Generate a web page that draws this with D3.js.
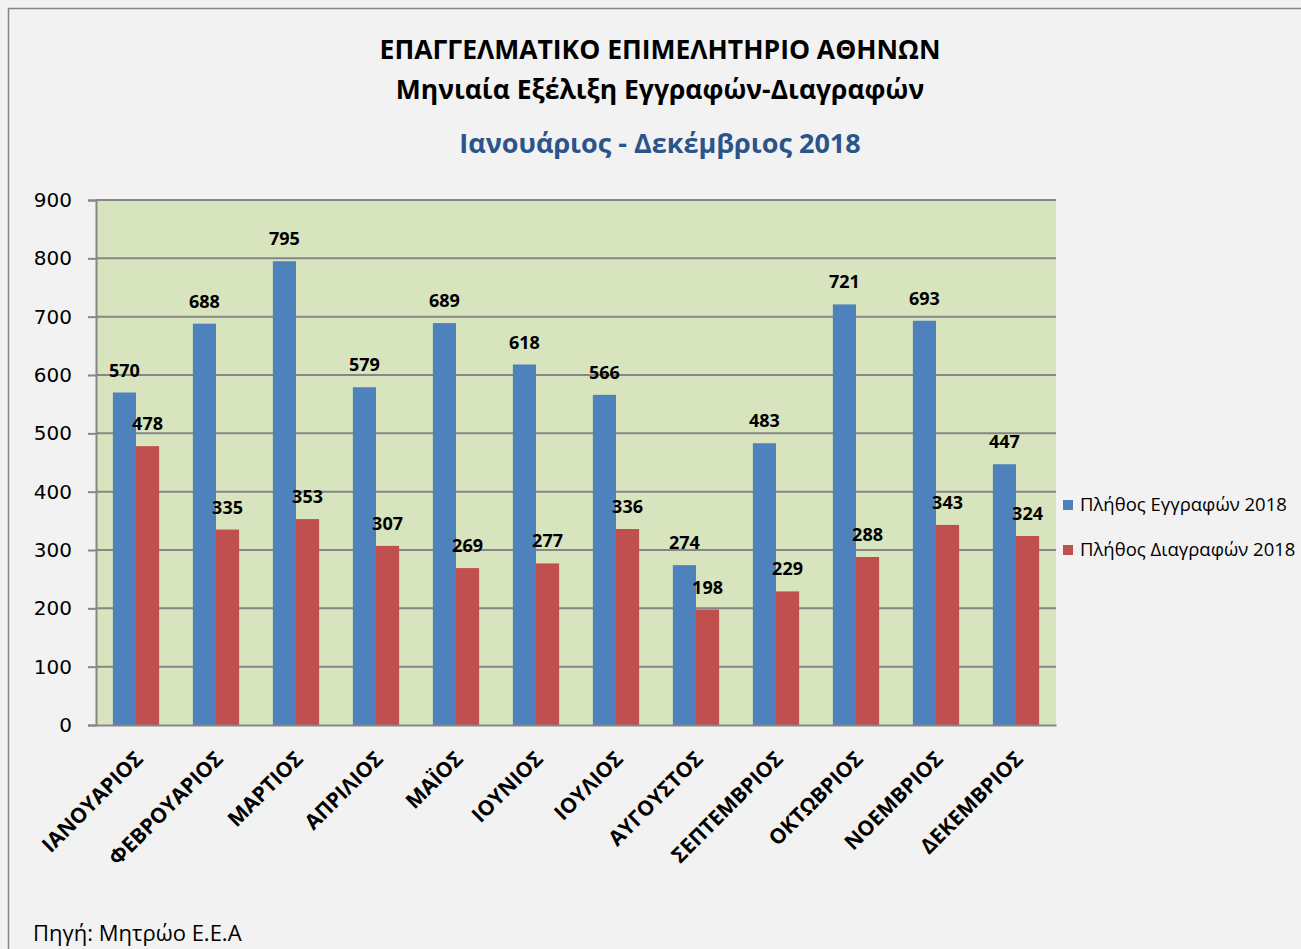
<!DOCTYPE html>
<html>
<head>
<meta charset="utf-8">
<script src="https://cdn.jsdelivr.net/npm/d3@7"></script>
<style>
  body { margin: 0; background: #fff; }
  svg { display: block; }
</style>
</head>
<body>
<div id="chart"></div>
<script>
const months = ["ΙΑΝΟΥΑΡΙΟΣ", "ΦΕΒΡΟΥΑΡΙΟΣ", "ΜΑΡΤΙΟΣ", "ΑΠΡΙΛΙΟΣ", "ΜΑΪΟΣ", "ΙΟΥΝΙΟΣ",
  "ΙΟΥΛΙΟΣ", "ΑΥΓΟΥΣΤΟΣ", "ΣΕΠΤΕΜΒΡΙΟΣ", "ΟΚΤΩΒΡΙΟΣ", "ΝΟΕΜΒΡΙΟΣ", "ΔΕΚΕΜΒΡΙΟΣ"];
const registrations = [570, 688, 795, 579, 689, 618, 566, 274, 483, 721, 693, 447];
const deletions = [478, 335, 353, 307, 269, 277, 336, 198, 229, 288, 343, 324];
const seriesNames = ["Πλήθος Εγγραφών 2018", "Πλήθος Διαγραφών 2018"];
const yTicks = [0, 100, 200, 300, 400, 500, 600, 700, 800, 900];

const W = 1301, H = 949;
const plot = { left: 96, right: 1056, top: 200, bottom: 725 };
const colors = ["#4f81bd", "#c0504d"];

const svg = d3.select("#chart").append("svg")
  .attr("width", W)
  .attr("height", H)
  .style("font-family", "'Open Sans', sans-serif");

svg.append("rect").attr("width", W).attr("height", H).attr("fill", "#f2f2f2");
// outer frame
svg.append("path")
  .attr("d", `M8.5,${H} V8.5 H${W}`)
  .attr("fill", "none")
  .attr("stroke", "#868686")
  .attr("stroke-width", 1.5);

// titles
svg.append("text").attr("x", 660).attr("y", 59).attr("text-anchor", "middle")
  .style("font-size", "26.5px").style("font-weight", "bold").attr("fill", "#000")
  .text("ΕΠΑΓΓΕΛΜΑΤΙΚΟ ΕΠΙΜΕΛΗΤΗΡΙΟ ΑΘΗΝΩΝ");
svg.append("text").attr("x", 660).attr("y", 99).attr("text-anchor", "middle")
  .style("font-size", "26.5px").style("font-weight", "bold").attr("fill", "#000")
  .text("Μηνιαία Εξέλιξη Εγγραφών-Διαγραφών");
svg.append("text").attr("x", 660).attr("y", 153).attr("text-anchor", "middle")
  .style("font-size", "27px").style("font-weight", "bold").attr("fill", "#2a548b")
  .text("Ιανουάριος - Δεκέμβριος 2018");

const x = d3.scaleBand().domain(months).range([plot.left, plot.right]).paddingInner(0).paddingOuter(0);
const y = d3.scaleLinear().domain([0, 900]).range([plot.bottom, plot.top]);
const inner = d3.scaleBand().domain([0, 1]).range([0, x.bandwidth()]).paddingOuter(0.73).paddingInner(0);

svg.append("rect")
  .attr("x", plot.left).attr("y", plot.top)
  .attr("width", plot.right - plot.left).attr("height", plot.bottom - plot.top)
  .attr("fill", "#d7e4bd");

// gridlines
svg.append("g")
  .selectAll("line")
  .data(yTicks.filter(d => d > 0))
  .join("line")
  .attr("x1", plot.left).attr("x2", plot.right)
  .attr("y1", d => y(d)).attr("y2", d => y(d))
  .attr("stroke", "#868686").attr("stroke-width", 2);

// y axis
const yAxis = svg.append("g")
  .attr("transform", `translate(${plot.left},0)`)
  .call(d3.axisLeft(y).tickValues(yTicks).tickSize(8).tickPadding(16));
yAxis.selectAll("line, path").attr("stroke", "#868686").attr("stroke-width", 2);
yAxis.selectAll("text")
  .style("font-family", "'DejaVu Sans', sans-serif")
  .style("font-size", "20px").attr("fill", "#000");

// bars
const series = [registrations, deletions];
series.forEach((vals, si) => {
  const g = svg.append("g");
  g.selectAll("rect")
    .data(vals)
    .join("rect")
    .attr("x", (d, i) => x(months[i]) + inner(si))
    .attr("y", d => y(d))
    .attr("width", inner.bandwidth())
    .attr("height", d => y(0) - y(d))
    .attr("fill", colors[si]);
  g.selectAll("text")
    .data(vals)
    .join("text")
    .attr("x", (d, i) => x(months[i]) + inner(si) + inner.bandwidth() / 2)
    .attr("y", d => y(d) - 16)
    .attr("text-anchor", "middle")
    .style("font-size", "18px").style("font-weight", "bold")
    .attr("fill", "#000")
    .text(d => d);
});

// x axis
const xAxis = svg.append("g")
  .attr("transform", `translate(0,${plot.bottom})`)
  .call(d3.axisBottom(x).tickSize(0).tickPadding(0));
xAxis.select("path").attr("stroke", "#868686").attr("stroke-width", 2);
xAxis.selectAll("text")
  .attr("transform", "translate(3,30) rotate(-45)")
  .attr("dy", "0.35em")
  .style("text-anchor", "end")
  .style("font-size", "21px").style("font-weight", "bold")
  .style("font-family", "'Open Sans', sans-serif")
  .attr("fill", "#000");

// legend
const legend = svg.append("g");
seriesNames.forEach((name, i) => {
  const ly = 505 + i * 45;
  legend.append("rect").attr("x", 1063).attr("y", ly - 5).attr("width", 10).attr("height", 10).attr("fill", colors[i]);
  legend.append("text").attr("x", 1080).attr("y", ly).attr("dy", "0.35em")
    .style("font-size", "18.5px").attr("fill", "#000").text(name);
});

// source
svg.append("text").attr("x", 33).attr("y", 941)
  .style("font-size", "22px").attr("fill", "#000")
  .text("Πηγή: Μητρώο Ε.Ε.Α");
</script>
</body>
</html>
